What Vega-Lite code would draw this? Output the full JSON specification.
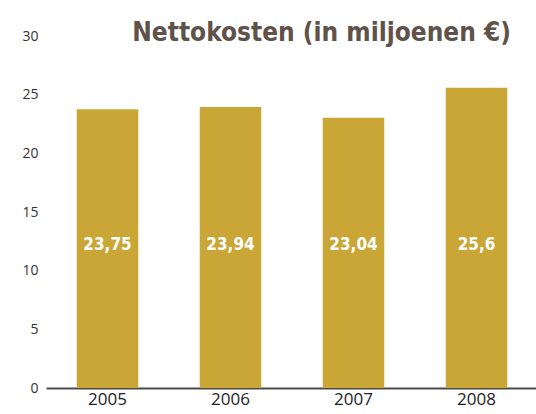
{
  "$schema": "https://vega.github.io/schema/vega-lite/v6.json",
  "width": 492,
  "height": 352,
  "autosize": {"type": "none"},
  "padding": {"left": 46, "top": 36, "right": 0, "bottom": 26},
  "background": "white",
  "config": {
    "view": {"stroke": null},
    "locale": {"number": {"decimal": ",", "thousands": ".", "grouping": [3], "currency": ["€", ""]}}
  },
  "title": {
    "text": "Nettokosten (in miljoenen €)",
    "anchor": "end",
    "frame": "group",
    "baseline": "alphabetic",
    "offset": -2,
    "dx": -27,
    "dy": 36,
    "font": "DejaVu Sans Condensed",
    "fontSize": 26,
    "fontWeight": "bold",
    "color": "#5e524a"
  },
  "data": {
    "values": [
      {"jaar": "2005", "kosten": 23.75},
      {"jaar": "2006", "kosten": 23.94},
      {"jaar": "2007", "kosten": 23.04},
      {"jaar": "2008", "kosten": 25.6}
    ]
  },
  "encoding": {
    "x": {
      "field": "jaar",
      "type": "nominal",
      "scale": {"paddingInner": 0.5, "paddingOuter": 0.25},
      "axis": {
        "title": null,
        "labelAngle": 0,
        "ticks": false,
        "domainColor": "#4a4a4a",
        "domainWidth": 2,
        "labelFont": "Open Sans",
        "labelFontSize": 17,
        "labelColor": "#222222",
        "labelPadding": 3
      }
    }
  },
  "layer": [
    {
      "mark": {"type": "bar", "color": "#c9a636"},
      "encoding": {
        "y": {
          "field": "kosten",
          "type": "quantitative",
          "scale": {"domain": [0, 30], "nice": false},
          "axis": {
            "title": null,
            "values": [0, 5, 10, 15, 20, 25, 30],
            "domain": false,
            "ticks": false,
            "grid": false,
            "labelFont": "Open Sans",
            "labelFontSize": 14,
            "labelColor": "#333333",
            "labelPadding": 8
          }
        }
      }
    },
    {
      "mark": {
        "type": "text",
        "color": "white",
        "font": "DejaVu Sans Condensed",
        "fontSize": 17,
        "fontWeight": "bold",
        "baseline": "middle"
      },
      "encoding": {
        "y": {"datum": 12.2},
        "text": {"field": "kosten", "type": "quantitative", "format": ".4~r"}
      }
    }
  ]
}
